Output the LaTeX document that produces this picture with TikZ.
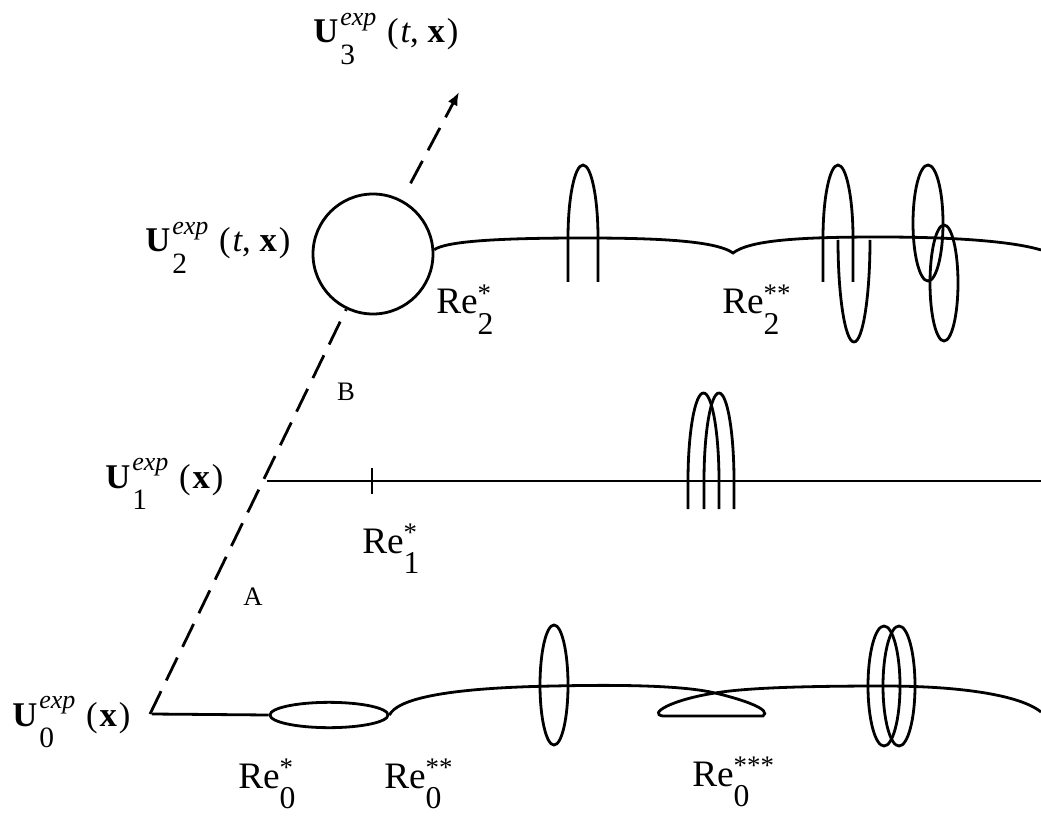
\documentclass[tikz,border=0pt]{standalone}
\usepackage{fontspec}
\setmainfont{Liberation Serif}
\usepackage{graphicx}
\usetikzlibrary{arrows.meta,shapes.geometric}
\newcommand{\supsub}[6]{%
  \sbox0{\raisebox{#2}{\scalebox{#1}{#3}}}%
  \sbox2{\raisebox{-#5}{\scalebox{#4}{#6}}}%
  \ifdim\wd0>\wd2 \makebox[\wd0][l]{\rlap{\usebox2}\usebox0}\else\makebox[\wd2][l]{\rlap{\usebox0}\usebox2}\fi}
\newcommand{\Ulab}[2]{\textbf{U}\kern1.5pt\supsub{0.75}{0.5em}{\textit{exp}}{0.85}{0.62em}{#1}\kern8pt(\kern1.5pt#2\kern1.5pt)}
\newcommand{\Relab}[2]{Re\supsub{0.72}{0.3em}{#1}{0.85}{0.55em}{#2}}
\begin{document}
\begin{tikzpicture}[x=0.75pt,y=-0.75pt,
  curve/.style={line width=2.1pt},
  dashline/.style={line width=2.1pt, dash pattern=on 19pt off 9pt},
  ulabel/.style={font=\fontsize{26}{30}\selectfont, anchor=base west, inner sep=0pt},
  relabel/.style={font=\fontsize{28}{32}\selectfont, anchor=base west, inner sep=0pt},
  letter/.style={font=\fontsize{20}{24}\selectfont, inner sep=0pt}]
\useasboundingbox (0,0) rectangle (1041,816);
% axis of levels
\coordinate (o) at (150,714);
\coordinate (t3) at (459,92);
\node[circle, draw, curve, minimum size=90pt, inner sep=0pt] (c2) at (373,254) {};
\draw[dashline] (o) -- (c2);
\draw[dashline, -{Latex[length=10pt,width=8pt]}, shorten <=14pt] (c2) -- (t3);
% row 1
\coordinate (s1) at (267,481);
\coordinate (e1) at (1041,481);
\draw[curve] (s1) -- (e1);
\draw[curve] (372,468) -- (372,494);
\draw[curve] (688,509) -- (688,481) arc[start angle=180, end angle=360, x radius=15.5, y radius=88] -- (719,509);
\draw[curve] (704,509) -- (704,481) arc[start angle=180, end angle=360, x radius=15, y radius=88] -- (734,509);
% row 2
\coordinate (e2) at (1041,250);
\draw[curve] (c2.4) .. controls (445,242) and (490,238) .. (583,238) .. controls (650,238) and (715,240) .. (733,253) .. controls (750,240) and (800,237) .. (880,237) .. controls (960,237) and (1015,242) .. (e2);
\draw[curve] (568,282) -- (568,238) arc[start angle=180, end angle=360, x radius=15, y radius=73] -- (598,282);
\draw[curve] (823,282) -- (823,238) arc[start angle=180, end angle=360, x radius=15, y radius=73] -- (853,282);
\draw[curve] (838,240) arc[start angle=180, end angle=0, x radius=16, y radius=102];
\draw[curve] (928,223) ellipse[x radius=15, y radius=58];
\draw[curve] (944,283) ellipse[x radius=14, y radius=58];
% row 0
\coordinate (s0) at (152,714);
\coordinate (e0r) at (1041,712);
\node[ellipse, draw, curve, minimum width=88.5pt, minimum height=19pt, inner sep=0pt] (e0) at (329,715) {};
\draw[curve] (s0) -- (e0.west);
\draw[curve] (e0.east) .. controls (397,700) and (440,688) .. (554,686) .. controls (640,684) and (690,687) .. (715,693) .. controls (745,700) and (772,710) .. (763,716) -- (663,716) .. controls (648,714) and (670,700) .. (715,693) .. controls (745,688) and (800,686) .. (884,686) .. controls (960,686) and (1020,695) .. (e0r);
\draw[curve] (554,685) ellipse[x radius=14, y radius=60];
\draw[curve] (884,686) ellipse[x radius=16, y radius=60];
\draw[curve] (899,686) ellipse[x radius=16, y radius=60];
% labels
\node[ulabel] (u0) at (12,726) {\Ulab{0}{\textbf{x}}};
\node[ulabel] (u1) at (105,488) {\Ulab{1}{\textbf{x}}};
\node[ulabel] (u2) at (145,252) {\Ulab{2}{\textit{t}, \textbf{x}}};
\node[ulabel] (u3) at (313,43) {\Ulab{3}{\textit{t}, \textbf{x}}};
\node[relabel] (r0a) at (238,788) {\Relab{*}{0}};
\node[relabel] (r0b) at (384,788) {\Relab{**}{0}};
\node[relabel] (r0c) at (692,786) {\Relab{***}{0}};
\node[relabel] (r1) at (362,553) {\Relab{*}{1}};
\node[relabel] (r2a) at (436,314) {\Relab{*}{2}};
\node[relabel] (r2b) at (722,314) {\Relab{**}{2}};
\node[letter] (B) at (346,392) {B};
\node[letter] (A) at (253,597) {A};
\end{tikzpicture}
\end{document}
